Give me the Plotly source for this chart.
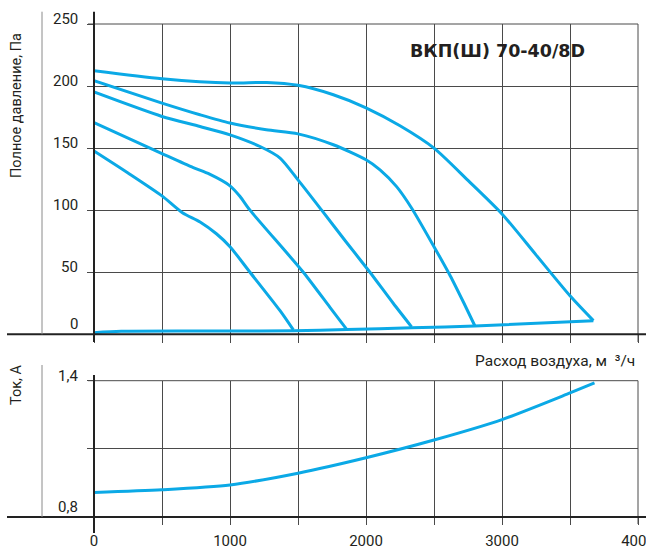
import plotly.graph_objects as go

# ---------------- data ----------------
# pressure curves (flow m3/h -> total pressure Pa)
flow_a = [0, 500, 1000, 1270, 1500, 1760, 2000, 2250, 2500, 2750, 3000, 3250, 3500, 3672]
pres_a = [212.3, 205.9, 202.4, 202.9, 200.6, 193, 182.5, 168, 150, 124, 97, 64, 31, 11]

flow_b = [0, 500, 779, 1000, 1267, 1500, 1760, 2000, 2103, 2225, 2336, 2500, 2620, 2716, 2801]
pres_b = [204.3, 186.3, 176.9, 170.2, 164.8, 161.5, 152.7, 140.6, 132.5, 119, 101.6, 70.6, 47, 26, 6.7]

flow_c = [0, 500, 779, 1000, 1221, 1368, 1500, 1674, 1850, 2029, 2200, 2335]
pres_c = [195.2, 175.5, 167.4, 160.7, 151.3, 142, 124.4, 100, 75, 50, 25, 6]

flow_d = [0, 500, 730, 850, 1000, 1074, 1147, 1539, 1735, 1858]
pres_d = [170.6, 145.6, 134.3, 129, 119.6, 111, 100, 50, 21.7, 4]

flow_e = [0, 250, 500, 650, 780, 900, 1000, 1147, 1368, 1466]
pres_e = [147.7, 130, 111.5, 98, 90.5, 81, 70.6, 50, 19, 3.5]

flow_base = [0, 200, 1000, 1466, 1858, 2335, 2800, 3672]
pres_base = [1.3, 2.4, 2.6, 2.9, 3.8, 5.2, 6.6, 11]

# current curve (flow m3/h -> A)
flow_i = [0, 500, 1000, 1500, 2000, 2500, 3000, 3500, 3680]
curr_i = [0.908, 0.92, 0.941, 0.993, 1.061, 1.139, 1.229, 1.346, 1.39]

x_ticks = [0, 500, 1000, 1500, 2000, 2500, 3000, 3500, 4000]
x_labels = ["0", "", "1000", "", "2000", "", "3000", "", "4000"]
p_ticks = [0, 50, 100, 150, 200, 250]
p_labels = ["0", "50", "100", "150", "200", "250"]
i_ticks = [0.8, 1.1, 1.4]
i_labels = ["0,8", "", "1,4"]

title_text = "ВКП(Ш) 70-40/8D"
x_title = "Расход воздуха, м\u00a0 ³/ч"
p_title = "Полное давление, Па"
i_title = "Ток, А"

# ---------------- layout helpers ----------------
W, H = 646, 549
L, R, T, B = 94, 8, 24, 32
PW = W - L - R
PH = H - T - B


def px(x):
    return (x - L) / PW


def py(y):
    return (H - B - y) / PH


BLUE = "#0BA9E6"
INK = "#231f20"
GRID = "#4a4a4a"
FONT = "Roboto, 'Liberation Sans', sans-serif"

fig = go.Figure()
line_style = dict(color=BLUE, width=3, shape="spline", smoothing=0.7)
for fx, fy in [(flow_a, pres_a), (flow_b, pres_b), (flow_c, pres_c),
               (flow_d, pres_d), (flow_e, pres_e), (flow_base, pres_base)]:
    fig.add_trace(go.Scatter(x=fx, y=fy, mode="lines", line=line_style,
                             xaxis="x", yaxis="y", showlegend=False, hoverinfo="skip"))

fig.add_trace(go.Scatter(x=flow_i, y=curr_i, mode="lines", line=line_style,
                         xaxis="x2", yaxis="y2", showlegend=False, hoverinfo="skip"))

top_bottom = py(334.3)
bot_top = py(380.7)

common_x = dict(range=[0, 4000], tickvals=x_ticks, showgrid=True, gridcolor=GRID,
                gridwidth=1, zeroline=False, showline=False, ticks="outside",
                tickcolor=GRID, tickwidth=1, fixedrange=True, automargin=False)
common_y = dict(showgrid=True, gridcolor=GRID, gridwidth=1, zeroline=False,
                showline=False, ticks="outside", ticklen=6, tickcolor=GRID,
                showticklabels=False, fixedrange=True, automargin=False)

fig.update_layout(
    width=W, height=H,
    margin=dict(l=L, r=R, t=T, b=B, autoexpand=False),
    paper_bgcolor="white", plot_bgcolor="white",
    font=dict(family=FONT, color=INK, size=15),
    xaxis=dict(common_x, domain=[0, 1], anchor="y", ticklen=8, showticklabels=False),
    yaxis=dict(common_y, domain=[top_bottom, 1], anchor="x", range=[0, 250], tickvals=p_ticks),
    xaxis2=dict(common_x, domain=[0, 1], anchor="y2", ticklen=7, ticktext=x_labels,
                ticklabelstandoff=3, ticklabeloverflow="allow",
                tickfont=dict(size=15, color=INK)),
    yaxis2=dict(common_y, domain=[0, bot_top], anchor="x2", range=[0.8, 1.4], tickvals=i_ticks),
)

AX = "#222222"
shapes = [
    # frame lines at the range ends (plotly omits end gridlines)
    dict(type="line", xref="paper", yref="paper", x0=px(88), x1=1, y0=1, y1=1,
         line=dict(color=GRID, width=1)),
    dict(type="line", xref="paper", yref="paper", x0=1, x1=1, y0=py(342), y1=1,
         line=dict(color=GRID, width=1)),
    dict(type="line", xref="paper", yref="paper", x0=px(88), x1=1, y0=bot_top, y1=bot_top,
         line=dict(color=GRID, width=1)),
    dict(type="line", xref="paper", yref="paper", x0=1, x1=1, y0=py(524), y1=bot_top,
         line=dict(color=GRID, width=1)),
    # top chart axes
    dict(type="line", xref="paper", yref="paper", x0=px(7), x1=px(646), y0=top_bottom, y1=top_bottom,
         line=dict(color=AX, width=2)),
    dict(type="line", xref="paper", yref="paper", x0=0, x1=0, y0=py(342), y1=py(11.7),
         line=dict(color=AX, width=2)),
    dict(type="line", xref="paper", yref="paper", x0=px(42), x1=px(42), y0=top_bottom, y1=py(11.7),
         line=dict(color="#8a8a8a", width=1)),
    # bottom chart axes
    dict(type="line", xref="paper", yref="paper", x0=px(7), x1=px(646), y0=0, y1=0,
         line=dict(color=AX, width=2)),
    dict(type="line", xref="paper", yref="paper", x0=0, x1=0, y0=py(533), y1=py(375),
         line=dict(color=AX, width=2)),
    dict(type="line", xref="paper", yref="paper", x0=px(42), x1=px(42), y0=0, y1=py(365),
         line=dict(color="#8a8a8a", width=1)),
]
fig.update_layout(shapes=shapes)

annotations = [
    dict(text="<b>" + title_text + "</b>", xref="paper", yref="paper", x=px(497.3), y=py(50.7),
         xanchor="center", yanchor="middle", showarrow=False,
         font=dict(size=17.5, color=INK, family="'DejaVu Sans', sans-serif")),
    dict(text=x_title, xref="paper", yref="paper", x=px(637), y=py(360.7),
         xanchor="right", yanchor="middle", showarrow=False, font=dict(size=15.5, color=INK)),
    dict(text=p_title, xref="paper", yref="paper", x=px(16), y=py(106), textangle=-90,
         xanchor="center", yanchor="middle", showarrow=False, font=dict(size=14.5, color=INK)),
    dict(text=i_title, xref="paper", yref="paper", x=px(16), y=py(385), textangle=-90,
         xanchor="center", yanchor="middle", showarrow=False, font=dict(size=14.5, color=INK)),
]

# y tick labels (drawn as annotations so they can sit just above their grid lines)
for yref, ticks, labels, base in [("y", p_ticks, p_labels, 0), ("y2", i_ticks, i_labels, 0.8)]:
    for v, lab in zip(ticks, labels):
        if not lab:
            continue
        annotations.append(dict(text=lab, xref="paper", yref=yref, x=px(80), y=v,
                                xanchor="right", yanchor="middle", showarrow=False,
                                yshift=10 if v == base else 5,
                                font=dict(size=15, color=INK)))
fig.update_layout(annotations=annotations)

fig.write_html(
    "out.html",
    config={"displayModeBar": False, "staticPlot": True},
    post_script="document.body.style.margin='0';",
)
